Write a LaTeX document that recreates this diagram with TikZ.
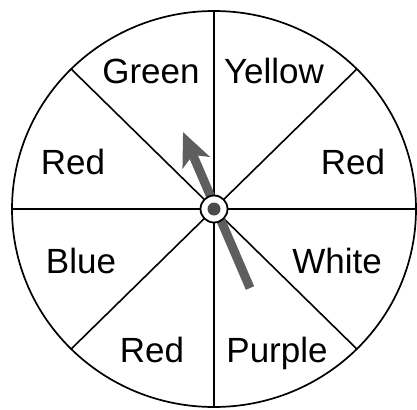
\documentclass[tikz,border=0pt]{standalone}
\usepackage{fontspec}
\setmainfont{Liberation Sans}
\usetikzlibrary{arrows.meta}
\definecolor{pointerGray}{HTML}{5E5E5E}
\definecolor{hubGray}{HTML}{4A4A4A}
\tikzset{
  rim/.style={draw=black, line width=1.7pt},
  spoke/.style={draw=black, line width=1.6pt},
  colour/.style={anchor=base, inner sep=0pt, font=\fontsize{35}{40}\selectfont},
  pointer/.style={draw=pointerGray, line width=9pt,
    -{Stealth[length=33pt,width=29pt,inset=8pt]}},
  hub/.style={circle, draw=black, fill=white, line width=1.8pt,
    minimum size=27pt, inner sep=0pt},
  hubdot/.style={circle, fill=hubGray, minimum size=13pt, inner sep=0pt}
}

\begin{document}
\begin{tikzpicture}[x=1pt, y=-1pt]
  \useasboundingbox (0,0) rectangle (417,409);
  \coordinate (c) at (214,209);

  % wheel and spokes
  \draw[rim] (c) ellipse [x radius=202, y radius=198];
  \foreach \a in {0,45,...,315}
    \draw[spoke] (c) -- ++(\a:202 and -198);

  % sector labels
  \node[colour] (green)   at (151,84)  {Green};
  \node[colour] (yellow)  at (274,84)  {Yellow};
  \node[colour] (redA)    at (73,174)  {Red};
  \node[colour] (redB)    at (353,174) {Red};
  \node[colour] (blue)    at (81,273)  {Blue};
  \node[colour] (white)   at (337,273) {White};
  \node[colour] (redC)    at (152,362) {Red};
  \node[colour] (purple)  at (277,362) {Purple};

  % pointer
  \coordinate (tail) at (250,288);
  \coordinate (tip)  at (183,132);
  \draw[pointer] (tail) -- (tip);

  % hub
  \node[hub]    (pin) at (c) {};
  \node[hubdot] (dot) at (c) {};
\end{tikzpicture}
\end{document}
